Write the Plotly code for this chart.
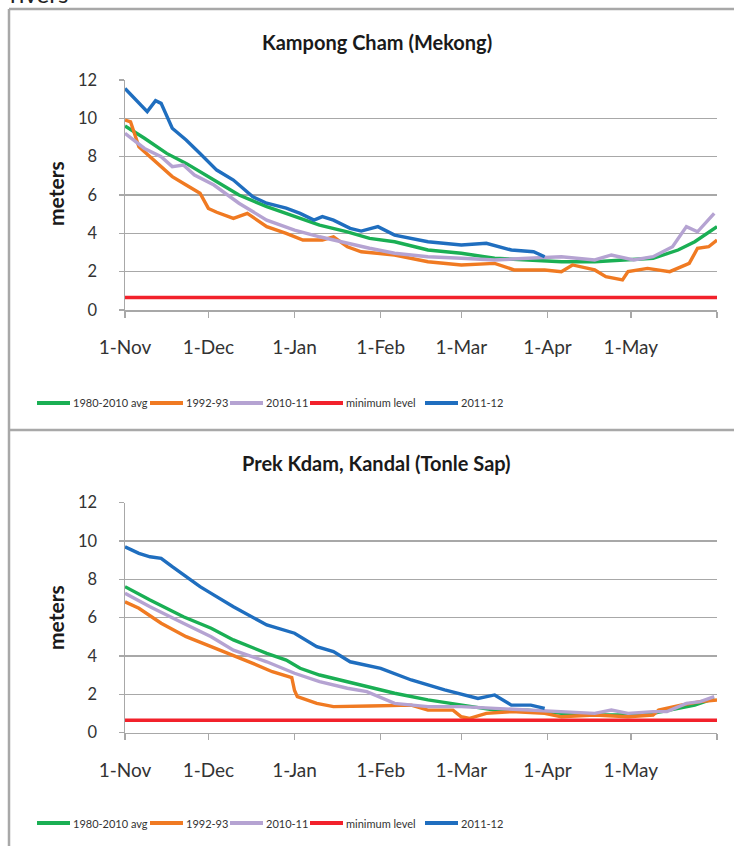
import pandas as pd
import plotly.graph_objects as go

START = "2011-11-01"
SERIES = ["1980-2010 avg", "1992-93", "2010-11", "minimum level", "2011-12"]
COLORS = ["#1aaf54", "#f07a22", "#b5a3d2", "#f2212b", "#1f6ebf"]
TICK_DATES = ["2011-11-01", "2011-12-01", "2012-01-01", "2012-02-01", "2012-03-01",
              "2012-04-01", "2012-05-01", "2012-06-01"]
TICK_TEXT = ["1-Nov", "1-Dec", "1-Jan", "1-Feb", "1-Mar", "1-Apr", "1-May", ""]

# ---- Kampong Cham (Mekong): days since 1-Nov, water level (m)
kc_avg_d = [0, 7, 15, 22, 32, 41, 51, 61, 70, 80, 88, 97, 109, 121, 133, 145, 157, 169, 181, 190, 199, 205, 213]
kc_avg_v = [9.6, 8.96, 8.17, 7.65, 6.78, 6.0, 5.39, 4.87, 4.43, 4.08, 3.74, 3.56, 3.13, 2.96, 2.70, 2.61, 2.52, 2.52, 2.61, 2.70, 3.13, 3.56, 4.35]
kc_9293_d = [0, 2, 5, 9, 13, 17, 22, 27, 30, 33, 39, 44, 51, 58, 64, 71, 75, 80, 85, 91, 97, 109, 121, 133, 140, 151, 157, 161, 169, 173, 179, 181, 188, 196, 200, 203, 206, 210, 213]
kc_9293_v = [9.91, 9.82, 8.52, 8.0, 7.48, 6.96, 6.52, 6.09, 5.3, 5.1, 4.78, 5.04, 4.35, 4.0, 3.65, 3.65, 3.82, 3.30, 3.04, 2.96, 2.87, 2.52, 2.35, 2.43, 2.09, 2.09, 2.0, 2.35, 2.09, 1.74, 1.57, 2.0, 2.17, 2.0, 2.26, 2.43, 3.22, 3.30, 3.65]
kc_1011_d = [0, 7, 13, 17, 21, 25, 32, 41, 51, 61, 70, 80, 88, 97, 109, 121, 133, 145, 157, 169, 175, 183, 190, 197, 202, 206, 212]
kc_1011_v = [9.22, 8.43, 8.0, 7.48, 7.56, 7.04, 6.52, 5.57, 4.69, 4.17, 3.82, 3.48, 3.22, 2.96, 2.78, 2.70, 2.61, 2.70, 2.78, 2.61, 2.87, 2.61, 2.78, 3.30, 4.35, 4.08, 5.04]
kc_min_d = [0, 213]
kc_min_v = [0.65, 0.65]
kc_1112_d = [0, 8, 11, 13, 17, 22, 27, 33, 39, 46, 51, 58, 63, 68, 71, 75, 81, 85, 91, 97, 109, 121, 130, 139, 147, 151]
kc_1112_v = [11.56, 10.35, 10.92, 10.78, 9.48, 8.87, 8.17, 7.30, 6.78, 5.91, 5.57, 5.31, 5.04, 4.69, 4.87, 4.69, 4.26, 4.12, 4.35, 3.91, 3.56, 3.39, 3.48, 3.13, 3.04, 2.78]

# ---- Prek Kdam, Kandal (Tonle Sap)
pk_avg_d = [0, 9, 21, 31, 39, 51, 58, 63, 70, 80, 87, 97, 109, 121, 133, 145, 157, 169, 181, 190, 199, 205, 212]
pk_avg_v = [7.62, 6.92, 6.05, 5.45, 4.84, 4.14, 3.79, 3.36, 3.01, 2.66, 2.45, 2.06, 1.71, 1.44, 1.18, 1.18, 1.01, 0.92, 0.92, 1.01, 1.27, 1.44, 1.79]
pk_9293_d = [0, 5, 13, 22, 31, 39, 46, 53, 60, 61, 62, 69, 75, 88, 103, 109, 118, 121, 124, 130, 139, 151, 157, 169, 181, 190, 192, 200, 207, 213]
pk_9293_v = [6.83, 6.49, 5.71, 5.01, 4.49, 4.05, 3.62, 3.18, 2.88, 2.2, 1.88, 1.53, 1.36, 1.39, 1.44, 1.18, 1.18, 0.83, 0.75, 1.01, 1.10, 1.01, 0.83, 0.92, 0.83, 0.92, 1.18, 1.44, 1.62, 1.71]
pk_1011_d = [0, 9, 21, 31, 39, 51, 61, 70, 80, 87, 97, 109, 121, 133, 145, 157, 169, 175, 181, 190, 195, 202, 207, 212]
pk_1011_v = [7.27, 6.57, 5.71, 5.01, 4.31, 3.70, 3.10, 2.66, 2.32, 2.14, 1.53, 1.36, 1.36, 1.27, 1.18, 1.10, 1.01, 1.18, 1.01, 1.10, 1.10, 1.53, 1.62, 1.88]
pk_min_d = [0, 213]
pk_min_v = [0.65, 0.65]
pk_1112_d = [0, 5, 9, 13, 17, 27, 31, 39, 51, 61, 69, 75, 81, 87, 92, 103, 115, 127, 133, 139, 146, 151]
pk_1112_v = [9.70, 9.36, 9.18, 9.10, 8.66, 7.62, 7.27, 6.57, 5.62, 5.19, 4.49, 4.23, 3.70, 3.50, 3.36, 2.75, 2.23, 1.79, 1.97, 1.44, 1.44, 1.27]

W, H = 734, 846
FONT = "Lato, 'Open Sans', sans-serif"
# legend layout (pixel x of each sample line start), sample length
LEG_X = [37, 150, 230, 310, 425]
LEG_LEN = 33


def to_dates(days):
    return pd.Timestamp(START) + pd.to_timedelta(days, unit="D")


def px_x(p):
    return p / W


def px_y(p):
    return 1 - p / H


fig = go.Figure()
panels = [
    ("x", "y", [(kc_avg_d, kc_avg_v), (kc_9293_d, kc_9293_v), (kc_1011_d, kc_1011_v),
                (kc_min_d, kc_min_v), (kc_1112_d, kc_1112_v)]),
    ("x2", "y2", [(pk_avg_d, pk_avg_v), (pk_9293_d, pk_9293_v), (pk_1011_d, pk_1011_v),
                  (pk_min_d, pk_min_v), (pk_1112_d, pk_1112_v)]),
]
for xa, ya, data in panels:
    for name, color, (d, v) in zip(SERIES, COLORS, data):
        fig.add_trace(go.Scatter(
            x=to_dates(d), y=v, mode="lines", name=name, xaxis=xa, yaxis=ya, showlegend=False,
            line=dict(color=color, width=3.4), hoverinfo="skip"))

xdom = [px_x(125), px_x(717)]
grid = "#a8a8a8"
xcommon = dict(type="date", range=["2011-11-01", "2012-06-01"], tickmode="array",
               tickvals=TICK_DATES, ticktext=TICK_TEXT, showgrid=False, showline=True,
               linecolor=grid, linewidth=1.5, ticks="outside", ticklen=6, tickcolor=grid,
               tickwidth=1.5, ticklabelstandoff=14, zeroline=False, automargin=False,
               tickfont=dict(family=FONT, size=19, color="#333"), domain=xdom)
ycommon = dict(range=[0, 12], tickvals=[0, 2, 4, 6, 8, 10, 12], showgrid=True, gridcolor=grid,
               gridwidth=1.5, showline=True, linecolor=grid, linewidth=1.5, ticks="outside",
               ticklen=5, tickcolor=grid, tickwidth=1.5, ticklabelstandoff=18, zeroline=False,
               automargin=False, tickfont=dict(family=FONT, size=16.5, color="#333"))

fig.update_layout(
    width=W, height=H, margin=dict(l=0, r=0, t=0, b=0, pad=0, autoexpand=False),
    paper_bgcolor="white", plot_bgcolor="white", showlegend=False,
    xaxis=dict(**xcommon, anchor="y"),
    yaxis=dict(**ycommon, anchor="x", domain=[px_y(310), px_y(80)]),
    xaxis2=dict(**xcommon, anchor="y2"),
    yaxis2=dict(**ycommon, anchor="x2", domain=[px_y(732.7), px_y(502.7)]),
)

# legends (one per panel)
for ly in (403, 823):
    for name, color, lx in zip(SERIES, COLORS, LEG_X):
        fig.add_shape(type="line", xref="paper", yref="paper", x0=px_x(lx), x1=px_x(lx + LEG_LEN),
                      y0=px_y(ly), y1=px_y(ly), line=dict(color=color, width=4))
        fig.add_annotation(text=name, xref="paper", yref="paper", x=px_x(lx + LEG_LEN + 1),
                           y=px_y(ly), xanchor="left", yanchor="middle", showarrow=False,
                           font=dict(family=FONT, size=11, color="#333"))

border = "#a8a8a8"
fig.add_shape(type="line", xref="paper", yref="paper", x0=px_x(9), x1=px_x(9), y0=0, y1=px_y(9),
              line=dict(color=border, width=2.5))
fig.add_shape(type="line", xref="paper", yref="paper", x0=px_x(9), x1=1, y0=px_y(9), y1=px_y(9),
              line=dict(color=border, width=2.5))
fig.add_shape(type="line", xref="paper", yref="paper", x0=px_x(9), x1=1, y0=px_y(430), y1=px_y(430),
              line=dict(color=border, width=2.5))

annots = [
    ("Kampong Cham (Mekong)", 377, 42),
    ("Prek Kdam, Kandal (Tonle Sap)", 376, 463),
]
for t, x, y in annots:
    fig.add_annotation(text="<b>" + t + "</b>", xref="paper", yref="paper", x=px_x(x), y=px_y(y),
                       xanchor="center", yanchor="middle", showarrow=False,
                       font=dict(family=FONT, size=20, color="#1a1a1a"))
for y in (194, 618):
    fig.add_annotation(text="<b>meters</b>", xref="paper", yref="paper", x=px_x(55), y=px_y(y),
                       xanchor="center", yanchor="middle", showarrow=False, textangle=-90,
                       font=dict(family=FONT, size=21, color="#1a1a1a"))
fig.add_annotation(text="rivers", xref="paper", yref="paper", x=px_x(8), y=px_y(10),
                   xanchor="left", yanchor="bottom", showarrow=False,
                   font=dict(family=FONT, size=24, color="#222"))

fig.write_html("out.html", config={"displayModeBar": False, "staticPlot": True},
               post_script="document.body.style.margin='0';document.body.style.overflow='hidden';")
